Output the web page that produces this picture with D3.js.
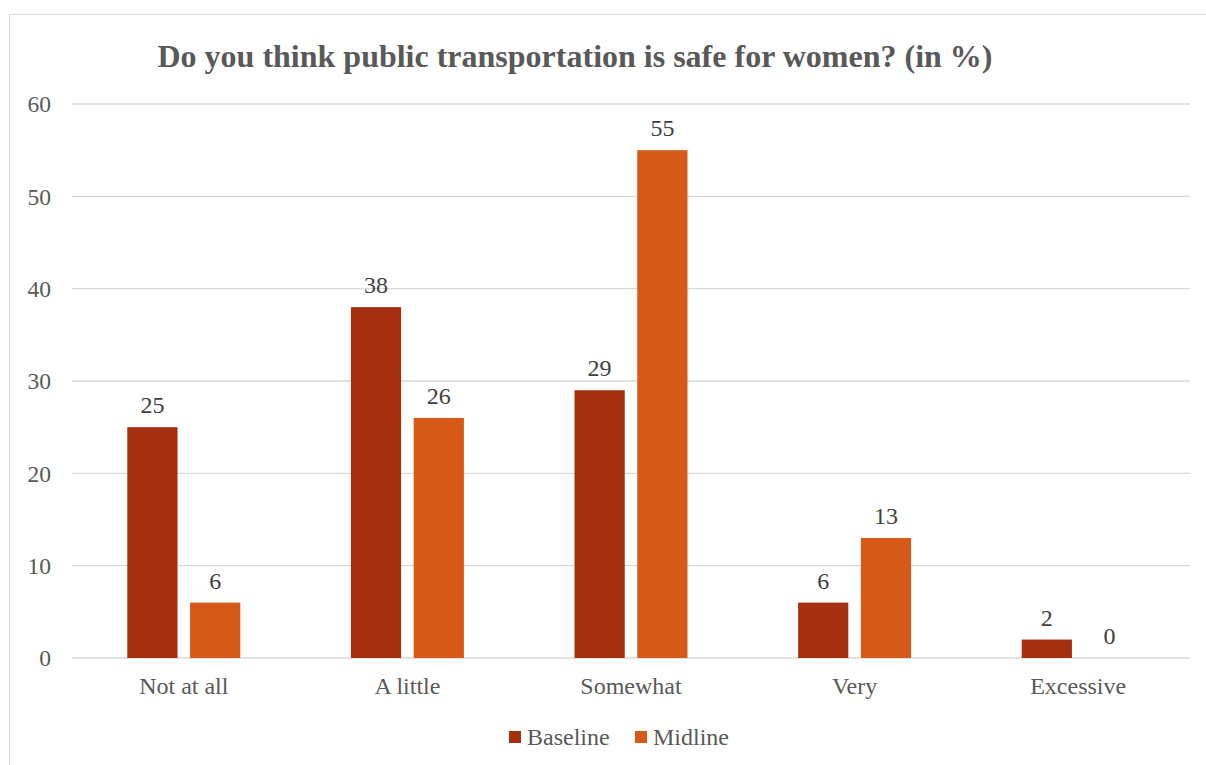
<!DOCTYPE html>
<html><head><meta charset="utf-8">
<script src="https://cdn.jsdelivr.net/npm/d3@7"></script>
<style>body{margin:0;background:#fff}svg{display:block}</style>
</head><body>
<script>
const categories = ["Not at all","A little","Somewhat","Very","Excessive"];
const seriesNames = ["Baseline","Midline"];
const baseline = [25,38,29,6,2];
const midline = [6,26,55,13,0];
const yTicks = [0,10,20,30,40,50,60];
const colors = ["#A52F11","#D55A18"];

const W=1206,H=765;
const svg=d3.select("body").append("svg").attr("width",W).attr("height",H);
svg.append("rect").attr("x",9.5).attr("y",14.5).attr("width",W).attr("height",H).attr("fill","#fff").attr("stroke","#d9d9d9");

const x0=d3.scaleBand().domain(categories).range([72,1190]).paddingInner(0).paddingOuter(0);
const x1=d3.scaleBand().domain(seriesNames).range([0,113]).paddingInner(0.2);
const y=d3.scaleLinear().domain([0,60]).range([658,104]);
const font="'Liberation Serif','Times New Roman',serif";

svg.append("g").selectAll("line").data(yTicks).join("line")
 .attr("x1",72).attr("x2",1190).attr("y1",d=>y(d)).attr("y2",d=>y(d))
 .attr("stroke","#d9d9d9").attr("stroke-width",1.3);

svg.append("g").selectAll("text").data(yTicks).join("text")
 .attr("x",51).attr("y",d=>y(d)).attr("dy","0.35em").attr("text-anchor","end")
 .attr("font-family",font).attr("font-size",23.5).attr("fill","#595959").text(d=>d);

const data=categories.map((c,i)=>({c,vals:[baseline[i],midline[i]]}));
const g=svg.append("g").selectAll("g").data(data).join("g")
 .attr("transform",d=>`translate(${x0(d.c)+x0.bandwidth()/2-56.5},0)`);
g.selectAll("rect").data(d=>d.vals.map((v,j)=>({v,s:seriesNames[j],j}))).join("rect")
 .attr("x",d=>x1(d.s)).attr("width",x1.bandwidth())
 .attr("y",d=>y(d.v)).attr("height",d=>y(0)-y(d.v)).attr("fill",d=>colors[d.j]);
g.selectAll("text").data(d=>d.vals.map((v,j)=>({v,s:seriesNames[j],j}))).join("text")
 .attr("x",d=>x1(d.s)+x1.bandwidth()/2).attr("y",d=>y(d.v)-14)
 .attr("text-anchor","middle").attr("font-family",font).attr("font-size",24).attr("fill","#404040").text(d=>d.v);

svg.append("g").selectAll("text").data(categories).join("text")
 .attr("x",d=>x0(d)+x0.bandwidth()/2).attr("y",694).attr("text-anchor","middle")
 .attr("font-family",font).attr("font-size",24).attr("fill","#595959").text(d=>d);

svg.append("text").attr("x",575).attr("y",67).attr("text-anchor","middle")
 .attr("font-family",font).attr("font-size",32).attr("font-weight","bold").attr("fill","#595959")
 .text("Do you think public transportation is safe for women? (in %)");

const legX=[509,635];
const lg=svg.append("g").selectAll("g").data(seriesNames).join("g")
 .attr("transform",(d,i)=>`translate(${legX[i]},731)`);
lg.append("rect").attr("width",12).attr("height",12).attr("fill",(d,i)=>colors[i]);
lg.append("text").attr("x",18).attr("y",6).attr("dy","0.35em").attr("font-family",font).attr("font-size",24).attr("fill","#595959").text(d=>d);
</script>
</body></html>
